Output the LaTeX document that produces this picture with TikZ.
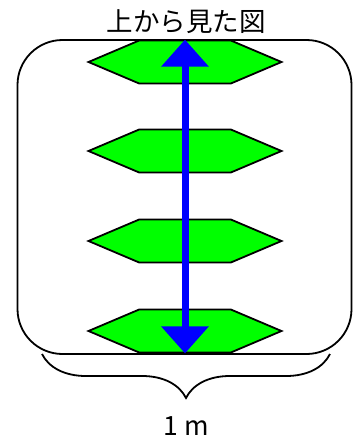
\documentclass[tikz,border=0pt]{standalone}
\usepackage{fontspec}
\setmainfont{Noto Sans CJK JP}
\usetikzlibrary{shapes.symbols,arrows.meta,decorations.pathreplacing}

\tikzset{
	plate/.style={draw,line width=1.8pt,fill=green,shape=signal,signal to=east and west,
		signal pointer angle=46,inner sep=0pt,minimum width=193pt,minimum height=43pt},
	label/.style={font=\fontsize{26.5}{30}\selectfont,inner sep=0pt}
}

\begin{document}
\begin{tikzpicture}[x=1pt,y=-1pt]
	\useasboundingbox (0,0) rectangle (353,439);
	\node (frame) at (184.5,197) [draw,line width=1.8pt,rounded corners=45pt,minimum width=334pt,minimum height=314pt] {};
	\node (title) at (186,22) [label] {上から見た図};
	% four plates, seen from above
	\foreach \n/\y in {1/62,2/151,3/241,4/331}
		\node (p\n) at (185,\y) [plate] {};
	\draw[blue,line width=7pt,{Triangle[width=46pt,length=27pt]}-{Triangle[width=46pt,length=27pt]}] (p1.north) -- (p4.south);
	% width of the frame
	\coordinate (bl) at (42,354);
	\coordinate (br) at (330,354);
	\draw[line width=1.8pt,decorate,decoration={brace,mirror,amplitude=44pt}] (bl) -- (br);
	\node (width) at (186,426) [label] {1 m};
\end{tikzpicture}
\end{document}
